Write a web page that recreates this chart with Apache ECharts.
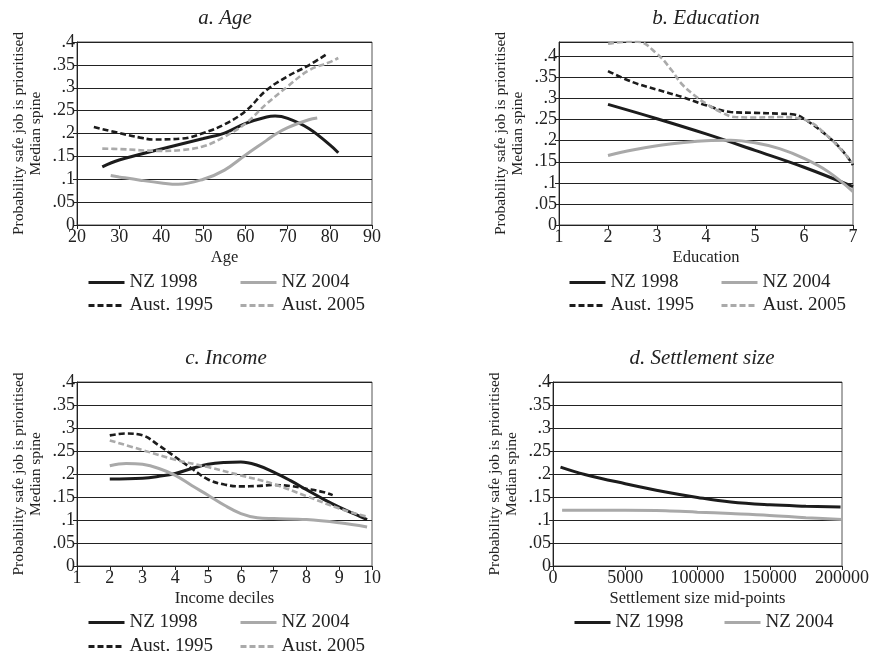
<!DOCTYPE html>
<html><head><meta charset="utf-8">
<script src="https://cdn.jsdelivr.net/npm/echarts@6/dist/echarts.min.js"></script>
<style>html,body{margin:0;padding:0;background:#fff}#c{width:872px;height:657px}</style>
</head><body><div id="c"></div>
<script>
// ---- data ----
const yTickLabels = ['0', '.05', '.1', '.15', '.2', '.25', '.3', '.35', '.4'];
const settleTickLabels = ['0', '5000', '100000', '150000', '200000'];
const seriesNames = ['NZ 1998', 'NZ 2004', 'Aust. 1995', 'Aust. 2005'];

const ageNZ1998 = [[26,0.127],[30,0.142],[40,0.166],[50,0.189],[55,0.201],[60,0.222],[65,0.236],[67,0.238],[70,0.233],[75,0.211],[80,0.175],[82,0.158]];
const ageNZ2004 = [[28,0.108],[30,0.105],[35,0.098],[40,0.092],[44,0.089],[50,0.100],[55,0.120],[60,0.153],[65,0.185],[67,0.198],[70,0.213],[75,0.230],[77,0.234]];
const ageAus1995 = [[24,0.214],[30,0.201],[35,0.191],[38,0.187],[45,0.189],[50,0.201],[55,0.220],[60,0.249],[65,0.295],[70,0.325],[75,0.349],[79,0.372]];
const ageAus2005 = [[26,0.167],[30,0.166],[40,0.162],[45,0.164],[50,0.172],[55,0.193],[60,0.222],[65,0.265],[70,0.303],[75,0.338],[80,0.356],[82,0.365]];

const eduNZ1998 = [[2,0.286],[3,0.252],[4,0.216],[5,0.177],[6,0.137],[7,0.091]];
const eduNZ2004 = [[2,0.165],[2.5,0.178],[3,0.188],[3.5,0.195],[4,0.200],[4.5,0.201],[5,0.195],[5.5,0.181],[6,0.158],[6.5,0.126],[7,0.079]];
const eduAus1995 = [[2,0.365],[2.5,0.339],[3,0.321],[3.5,0.304],[4,0.284],[4.5,0.268],[5,0.266],[5.5,0.264],[5.8,0.262],[6,0.252],[6.5,0.209],[6.8,0.174],[7,0.142]];
const eduAus2005 = [[2,0.430],[2.3,0.434],[2.6,0.435],[3,0.406],[3.3,0.367],[3.5,0.335],[3.8,0.304],[4,0.288],[4.3,0.268],[4.6,0.256],[5,0.255],[5.5,0.256],[6,0.250],[6.5,0.209],[7,0.146]];

const incNZ1998 = [[2,0.189],[3,0.191],[3.5,0.195],[4,0.201],[4.5,0.212],[5,0.221],[5.5,0.225],[6,0.226],[6.5,0.219],[7,0.204],[7.5,0.186],[8,0.166],[8.5,0.146],[9,0.128],[9.5,0.112],[9.85,0.101]];
const incNZ2004 = [[2,0.218],[2.5,0.223],[3,0.221],[3.5,0.212],[4,0.197],[4.5,0.175],[5,0.154],[5.5,0.132],[6,0.114],[6.5,0.105],[7,0.103],[8,0.101],[9,0.094],[9.85,0.085]];
const incAus1995 = [[2,0.284],[2.5,0.288],[3,0.284],[3.5,0.262],[4,0.237],[4.5,0.212],[5,0.188],[5.5,0.177],[6,0.173],[6.5,0.174],[7,0.176],[7.5,0.174],[8,0.168],[8.5,0.161],[8.8,0.154]];
const incAus2005 = [[2,0.273],[3,0.252],[4,0.231],[5,0.215],[6,0.197],[7,0.178],[8,0.152],[9,0.125],[9.85,0.107]];

const setNZ1998 = [[5200,0.215],[22000,0.199],[50000,0.179],[78000,0.161],[100000,0.149],[123000,0.139],[150000,0.133],[175000,0.130],[199000,0.128]];
const setNZ2004 = [[6300,0.121],[50000,0.121],[78000,0.120],[100000,0.117],[123000,0.114],[150000,0.110],[175000,0.105],[200000,0.101]];

// ---- layout / style ----
const FONT = 'Liberation Serif';
const grids = [
  {left: 77, top: 42, width: 295, height: 183},
  {left: 559, top: 42, width: 294, height: 183},
  {left: 77, top: 382, width: 295, height: 184},
  {left: 553, top: 382, width: 296, height: 184}
];
const xAxesCfg = [
  {min: 20, max: 90, interval: 10, name: 'Age'},
  {min: 1, max: 7, interval: 1, name: 'Education'},
  {min: 1, max: 10, interval: 1, name: 'Income deciles'},
  {min: 0, max: 200000, interval: 50000, name: 'Settlement size mid-points', labels: settleTickLabels}
];
const yMax = [0.4, 0.434, 0.4, 0.4];
const titles = [
  {text: 'a. Age', x: 225, y: 8},
  {text: 'b. Education', x: 706, y: 8},
  {text: 'c. Income', x: 226, y: 348},
  {text: 'd. Settlement size', x: 702, y: 348}
];
const panelData = [
  [ageNZ1998, ageNZ2004, ageAus1995, ageAus2005],
  [eduNZ1998, eduNZ2004, eduAus1995, eduAus2005],
  [incNZ1998, incNZ2004, incAus1995, incAus2005],
  [setNZ1998, setNZ2004]
];
const styles = [
  {color: '#1c1c1c', width: 3, type: 'solid'},
  {color: '#a9a9a9', width: 3, type: 'solid'},
  {color: '#1c1c1c', width: 2.6, type: [6, 3]},
  {color: '#aaaaaa', width: 2.6, type: [6, 3]}
];
// legend item positions [panel, seriesIndex, left, centerY]
const legendPos = [
  [0,0,87,283],[0,1,239,283],[0,2,87,306],[0,3,239,306],
  [1,0,568,283],[1,1,720,283],[1,2,568,306],[1,3,720,306],
  [2,0,87,623],[2,1,239,623],[2,2,87,647],[2,3,239,647],
  [3,0,573,623],[3,1,723,623]
];

function yFmt(v) {
  const i = Math.round(v / 0.05);
  if (Math.abs(i * 0.05 - v) < 1e-6 && i < yTickLabels.length) return yTickLabels[i];
  return '';
}

const option = {
  backgroundColor: '#fff',
  animation: false,
  textStyle: {fontFamily: FONT},
  title: titles.map(t => ({
    text: t.text, left: t.x, top: t.y, textAlign: 'center', padding: 0,
    textStyle: {fontFamily: FONT, fontStyle: 'italic', fontWeight: 'normal', fontSize: 21, color: '#222'}
  })),
  grid: grids.map(g => Object.assign({show: true, borderColor: '#555', borderWidth: 1, backgroundColor: 'transparent'}, g)),
  xAxis: xAxesCfg.map((c, i) => ({
    type: 'value', gridIndex: i, min: c.min, max: c.max, interval: c.interval,
    name: c.name, nameLocation: 'middle', nameGap: 24,
    nameTextStyle: {fontFamily: FONT, fontSize: 16.5, color: '#222'},
    axisLine: {show: true, lineStyle: {color: '#222', width: 1}},
    axisTick: {show: true, length: 4, lineStyle: {color: '#222'}},
    splitLine: {show: false},
    axisLabel: {
      fontFamily: FONT, fontSize: 18, color: '#222', margin: 3,
      formatter: c.labels ? (v => { const k = Math.round((v - c.min) / c.interval); return c.labels[k] !== undefined ? c.labels[k] : ''; }) : (v => String(v))
    }
  })),
  yAxis: yMax.map((m, i) => ({
    type: 'value', gridIndex: i, min: 0, max: m, interval: 0.05,
    name: 'Probability safe job is prioritised\nMedian spine', nameLocation: 'middle', nameGap: 33,
    nameTextStyle: {fontFamily: FONT, fontSize: 15.5, color: '#222', lineHeight: 17},
    axisLine: {show: true, lineStyle: {color: '#222', width: 1}},
    axisTick: {show: true, length: 4, lineStyle: {color: '#222'}},
    splitLine: {show: true, lineStyle: {color: '#222', width: 1}},
    axisLabel: {fontFamily: FONT, fontSize: 18, color: '#222', margin: 2, formatter: yFmt, showMaxLabel: m === 0.4}
  })),
  legend: legendPos.map(p => ({
    left: p[2], top: p[3] - 10, padding: 0, itemWidth: 36, itemHeight: 14, itemGap: 0,
    data: [seriesNames[p[1]]], selectedMode: false,
    itemStyle: {opacity: 0},
    lineStyle: {width: 3},
    textStyle: {fontFamily: FONT, fontSize: 19, color: '#222', padding: [0, 0, 0, 0]}
  })),
  series: []
};

panelData.forEach((arr, pi) => {
  arr.forEach((d, si) => {
    const s = styles[si];
    option.series.push({
      type: 'line', name: seriesNames[si], xAxisIndex: pi, yAxisIndex: pi,
      data: d, smooth: 0.4, symbol: 'none', showSymbol: false,
      lineStyle: {color: s.color, width: s.width, type: s.type},
      itemStyle: {color: s.color}, z: 3
    });
  });
});

const chart = echarts.init(document.getElementById('c'), null, {renderer: 'canvas'});
chart.setOption(option);
</script>
</body></html>
